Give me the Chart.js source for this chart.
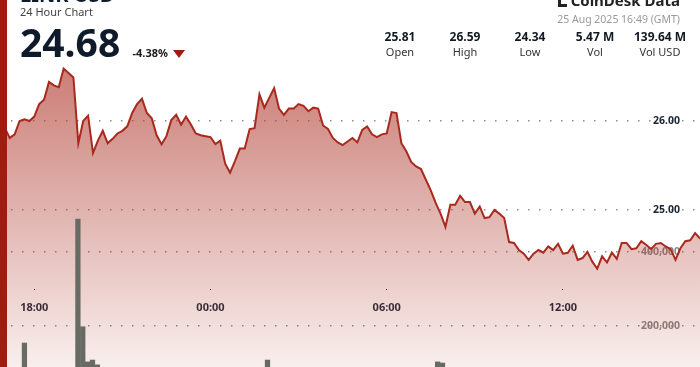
<!DOCTYPE html>
<html>
<head>
<meta charset="utf-8">
<script src="https://cdn.jsdelivr.net/npm/chart.js@4.4.0/dist/chart.umd.min.js"></script>
<style>
  html, body { margin: 0; padding: 0; width: 700px; height: 367px; overflow: hidden; background: #fff; }
  body { font-family: "Noto Sans", sans-serif; position: relative; }
  #chartBox { position: absolute; left: 0; top: 0; width: 700px; height: 400px; }
  .side { position: absolute; left: 0; top: 0; width: 7px; height: 367px; background: #a01b10; }
  .abs { position: absolute; line-height: 1; white-space: nowrap; }
  .title { left: 20px; top: -15px; font-size: 20px; font-weight: 700; color: #0f1a2a; }
  .sub { left: 20px; top: 6.2px; font-size: 11px; color: #444; }
  .price { left: 20px; top: 22.4px; font-size: 39px; font-weight: 700; color: #0f1a2a; }
  .chg { left: 132.5px; top: 47.2px; font-size: 11px; font-weight: 700; color: #1a1a1a; }
  .tri { position: absolute; left: 173px; top: 50px; width: 0; height: 0;
         border-left: 6px solid transparent; border-right: 6px solid transparent; border-top: 8px solid #a01b10; }
  .logo { right: 20px; top: -7.3px; font-size: 15px; font-weight: 700; color: #222; }
  .icon { position: absolute; left: 558px; top: 0; width: 3px; height: 6px; background: #222; }
  .icon2 { position: absolute; left: 558px; top: 4px; width: 9px; height: 2.5px; background: #222; }
  .date { right: 20px; top: 13.7px; font-size: 10.5px; color: #9a9a9a; }
  .stat { position: absolute; width: 70px; text-align: center; }
  .stat .v { position: absolute; left: 0; width: 70px; top: 30.6px; font-size: 12px; font-weight: 700; color: #111a24; line-height: 1; }
  .stat .l { position: absolute; left: 0; width: 70px; top: 45.8px; font-size: 11px; color: #333; line-height: 1; }
</style>
</head>
<body>
<div id="chartBox"><canvas id="priceChart" width="700" height="400"></canvas></div>
<div class="side"></div>
<div class="abs title">LINK USD</div>
<div class="abs sub">24 Hour Chart</div>
<div class="abs price">24.68</div>
<div class="abs chg">-4.38%</div>
<div class="tri"></div>
<div class="icon"></div><div class="icon2"></div>
<div class="abs logo">CoinDesk Data</div>
<div class="abs date">25 Aug 2025 16:49 (GMT)</div>
<div id="stats"></div>
<script>
//Header stats
const statValues = ['25.81', '26.59', '24.34', '5.47 M', '139.64 M'];
const statNames = ['Open', 'High', 'Low', 'Vol', 'Vol USD'];

//Tick labels shown on the axes
const timeTicks = ['18:00', '00:00', '06:00', '12:00'];
const priceTicks = [25, 26];
const volumeTicks = [200000, 400000];

//10 minute steps starting 16:50
const timeLabels = [];
for (let i = 0; i < 144; i++) {
    const m = (16 * 60 + 50 + i * 10) % 1440;
    timeLabels.push(String(Math.floor(m / 60)).padStart(2, '0') + ':' + String(m % 60).padStart(2, '0'));
}

//Price series (USD)
const prices = [
    25.81, 25.92, 25.81, 25.85, 26.00, 26.02, 26.00, 26.05, 26.19, 26.24,
    26.44, 26.40, 26.38, 26.59, 26.54, 26.49, 25.75, 26.00, 26.06, 25.64,
    25.78, 25.89, 25.75, 25.80, 25.86, 25.89, 25.94, 26.09, 26.19, 26.25,
    26.09, 26.03, 25.84, 25.74, 25.83, 26.01, 26.07, 25.96, 26.05, 25.96,
    25.86, 25.84, 25.83, 25.82, 25.74, 25.78, 25.52, 25.42, 25.55, 25.69,
    25.69, 25.91, 25.92, 26.30, 26.15, 26.26, 26.37, 26.14, 26.07, 26.14,
    26.14, 26.19, 26.17, 26.11, 26.15, 26.14, 25.95, 25.91, 25.81, 25.76,
    25.73, 25.77, 25.81, 25.76, 25.90, 25.94, 25.85, 25.82, 25.85, 25.86,
    26.10, 26.09, 25.75, 25.66, 25.54, 25.49, 25.46, 25.34, 25.22, 25.08,
    24.96, 24.81, 25.06, 25.06, 25.16, 25.09, 25.09, 24.96, 25.04, 24.91,
    24.92, 25.00, 24.96, 24.91, 24.64, 24.63, 24.55, 24.51, 24.44, 24.51,
    24.55, 24.52, 24.59, 24.55, 24.62, 24.51, 24.52, 24.60, 24.44, 24.46,
    24.53, 24.42, 24.34, 24.48, 24.41, 24.52, 24.45, 24.63, 24.63, 24.56,
    24.57, 24.65, 24.61, 24.56, 24.62, 24.63, 24.59, 24.56, 24.44, 24.57,
    24.65, 24.66, 24.74, 24.68
];

//Volume series (LINK)
const volumes = [
    42000, 38000, 35000, 40000, 52000, 154000, 60000, 45000, 48000, 55000,
    62000, 50000, 47000, 70000, 58000, 66000, 489000, 198000, 103000, 108000,
    95000, 60000, 52000, 44000, 40000, 38000, 41000, 50000, 47000, 44000,
    39000, 36000, 42000, 48000, 40000, 37000, 35000, 33000, 36000, 31000,
    34000, 30000, 29000, 32000, 35000, 33000, 52000, 58000, 45000, 41000,
    38000, 47000, 44000, 70000, 55000, 108000, 62000, 50000, 43000, 40000,
    37000, 35000, 34000, 36000, 33000, 31000, 40000, 38000, 42000, 36000,
    34000, 32000, 35000, 33000, 39000, 36000, 34000, 37000, 35000, 41000,
    66000, 58000, 62000, 55000, 50000, 48000, 52000, 60000, 64000, 72000,
    103000, 100000, 70000, 56000, 50000, 47000, 44000, 52000, 46000, 48000,
    45000, 42000, 40000, 43000, 75000, 62000, 55000, 50000, 58000, 47000,
    44000, 42000, 45000, 40000, 43000, 46000, 41000, 44000, 52000, 45000,
    42000, 48000, 60000, 50000, 46000, 43000, 44000, 49000, 41000, 40000,
    38000, 42000, 39000, 37000, 40000, 38000, 36000, 39000, 54000, 45000,
    42000, 40000, 43000, 41000
];

//Stats row
const statsEl = document.getElementById('stats');
statValues.forEach((v, i) => {
    const d = document.createElement('div');
    d.className = 'stat';
    d.style.left = (365 + i * 65) + 'px';
    d.style.top = '0px';
    d.innerHTML = '<div class="v">' + v + '</div><div class="l">' + statNames[i] + '</div>';
    statsEl.appendChild(d);
});

const FONT = '"Noto Sans", sans-serif';

//Fill gradient under the line
function fillGradient(context) {
    const chart = context.chart;
    if (!chart.chartArea) return 'rgba(176,60,48,0.3)';
    const g = chart.ctx.createLinearGradient(0, 60, 0, 400);
    g.addColorStop(0, 'rgba(176,60,48,0.68)');
    g.addColorStop(1, 'rgba(176,60,48,0.02)');
    return g;
}

//Keep the axes from taking any room
function noSpace(s) {
    if (s.isHorizontal()) s.height = 0; else s.width = 0;
    s.paddingTop = 0;
    s.paddingBottom = 0;
    s.paddingLeft = 0;
    s.paddingRight = 0;
}

const config = {
    data: {
        labels: timeLabels,
        datasets: [
            {
                type: 'bar',
                data: volumes,
                xAxisID: 'xBar',
                yAxisID: 'yVol',
                backgroundColor: '#676b63',
                borderWidth: 0,
                barThickness: 4.6
            },
            {
                type: 'line',
                data: prices,
                xAxisID: 'x',
                yAxisID: 'y',
                borderColor: '#a8291d',
                borderWidth: 2,
                pointRadius: 0,
                tension: 0,
                fill: 'start',
                backgroundColor: fillGradient
            }
        ]
    },
    options: {
        responsive: false,
        animation: false,
        devicePixelRatio: 1,
        layout: { padding: 0 },
        plugins: { legend: { display: false }, tooltip: { enabled: false } },
        scales: {
            x: {
                type: 'category',
                position: { y: 24.1124 },
                offset: false,
                afterFit: noSpace,
                grid: { display: true, drawOnChartArea: false, drawTicks: true, tickLength: 1, tickColor: '#222', tickWidth: 1 },
                border: { display: false },
                ticks: {
                    autoSkip: false,
                    maxRotation: 0,
                    padding: 11,
                    color: '#1b2536',
                    font: { family: FONT, size: 11, weight: 'bold' },
                    callback: function (v) {
                        const l = this.getLabelForValue(v);
                        return timeTicks.includes(l) ? l : null;
                    }
                }
            },
            xBar: { type: 'category', display: false, offset: true },
            y: {
                type: 'linear',
                position: 'right',
                min: 22.865,
                max: 27.36,
                afterBuildTicks: s => { s.ticks = priceTicks.map(v => ({ value: v })); },
                afterFit: noSpace,
                grid: { color: 'rgba(120,120,120,0.85)', lineWidth: 1.5, drawTicks: false },
                border: { display: false, dash: [1.5, 9.5] },
                ticks: {
                    mirror: true,
                    padding: -20,
                    color: '#1b2536',
                    font: { family: FONT, size: 10.5, weight: 'bold' },
                    callback: v => Number(v).toFixed(2)
                }
            },
            yVol: {
                type: 'linear',
                position: 'right',
                min: 0,
                max: 1081081,
                afterBuildTicks: s => { s.ticks = volumeTicks.map(v => ({ value: v })); },
                afterFit: noSpace,
                grid: { color: 'rgba(120,120,120,0.85)', lineWidth: 1.5, drawTicks: false },
                border: { display: false, dash: [1.5, 9.5] },
                ticks: {
                    mirror: true,
                    padding: -20,
                    color: '#8a8380',
                    font: { family: FONT, size: 10.5, weight: 'bold' },
                    callback: v => Number(v).toLocaleString('en-US')
                }
            }
        }
    }
};

new Chart(document.getElementById('priceChart').getContext('2d'), config);
</script>
</body>
</html>
